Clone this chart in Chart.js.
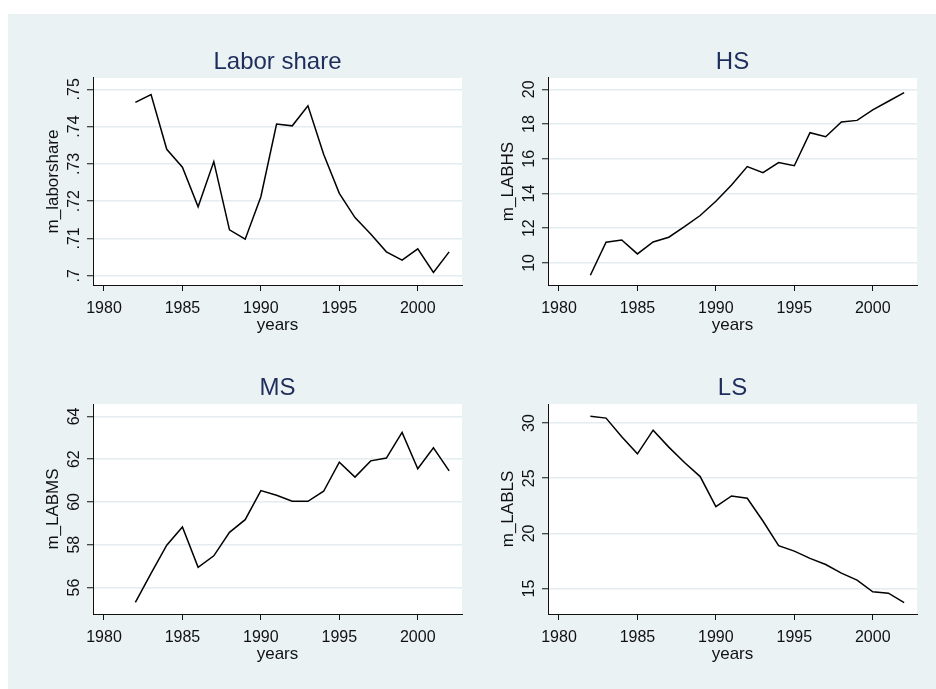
<!DOCTYPE html>
<html><head><meta charset="utf-8">
<script src="https://cdn.jsdelivr.net/npm/chart.js@4"></script>
<style>
html,body{margin:0;padding:0;background:#fff;}
#bg{position:absolute;left:8px;top:14px;width:928px;height:675px;background:#eaf2f3;}
canvas{position:absolute;}
</style></head><body>
<div id="bg"></div>
<canvas id="c1" width="464" height="331" style="left:8px;top:14px"></canvas>
<canvas id="c2" width="464" height="331" style="left:472px;top:14px"></canvas>
<canvas id="c3" width="464" height="344" style="left:8px;top:345px"></canvas>
<canvas id="c4" width="464" height="344" style="left:472px;top:345px"></canvas>
<script>
// ---- data ----
const years = [1982,1983,1984,1985,1986,1987,1988,1989,1990,1991,1992,1993,1994,1995,1996,1997,1998,1999,2000,2001,2002];
const laborShare = [.7465,.7486,.7339,.7291,.7185,.7306,.7123,.7098,.7212,.7407,.7402,.7456,.7326,.7221,.7156,.7112,.7064,.7042,.7072,.7009,.7064];
const labHS = [9.29,11.19,11.32,10.52,11.21,11.48,12.09,12.73,13.55,14.49,15.55,15.20,15.78,15.60,17.50,17.27,18.12,18.21,18.81,19.31,19.81];
const labMS = [55.30,56.66,57.98,58.83,56.94,57.48,58.58,59.17,60.53,60.31,60.03,60.03,60.50,61.86,61.16,61.92,62.05,63.25,61.55,62.53,61.45];
const labLS = [30.61,30.45,28.76,27.21,29.36,27.82,26.42,25.15,22.42,23.39,23.18,21.12,18.88,18.39,17.73,17.18,16.39,15.76,14.70,14.58,13.73];
const xTickValues = [1980,1985,1990,1995,2000];
const xTickLabels = ['1980','1985','1990','1995','2000'];
const laborTicks = [.70,.71,.72,.73,.74,.75];
const laborTickLabels = ['.7','.71','.72','.73','.74','.75'];
const hsTicks = [10,12,14,16,18,20];
const hsTickLabels = ['10','12','14','16','18','20'];
const msTicks = [56,58,60,62,64];
const msTickLabels = ['56','58','60','62','64'];
const lsTicks = [15,20,25,30];
const lsTickLabels = ['15','20','25','30'];

// ---- styling ----
const FONT = '"Liberation Sans", Arial, sans-serif';
const GRID = '#e3ecef';
const TITLE_COLOR = '#1f2d5c';

const plotBg = {
  id: 'plotBg',
  beforeDraw(chart) {
    const a = chart.chartArea, ctx = chart.ctx;
    ctx.save(); ctx.fillStyle = '#ffffff';
    ctx.fillRect(a.left, a.top, a.right - a.left, a.bottom - a.top);
    ctx.restore();
  }
};
const yLabels = {
  id: 'yLabels',
  afterDraw(chart) {
    const s = chart.scales.y, ctx = chart.ctx;
    const labs = chart.options.plugins.yLabels.labels;
    const vals = chart.options.plugins.yLabels.values;
    ctx.save();
    ctx.fillStyle = '#111';
    ctx.font = '16px ' + FONT;
    ctx.textAlign = 'center';
    ctx.textBaseline = 'alphabetic';
    s.ticks.forEach(t => {
      const i = vals.indexOf(t.value);
      const y = s.getPixelForValue(t.value);
      ctx.save();
      ctx.translate(s.right - 14.3, y);
      ctx.rotate(-Math.PI / 2);
      ctx.fillText(i >= 0 ? labs[i] : String(t.value), 0, 0);
      ctx.restore();
    });
    ctx.restore();
  }
};

function makeChart(id, c) {
  const pts = years.map((yr, i) => ({x: yr, y: c.values[i]}));
  return new Chart(document.getElementById(id), {
    type: 'line',
    data: {datasets: [{data: pts, borderColor: '#000', borderWidth: 1.5, pointRadius: 0, tension: 0, fill: false}]},
    plugins: [plotBg, yLabels],
    options: {
      responsive: false, animation: false, devicePixelRatio: 1,
      layout: {padding: {left: 0, right: c.padRight, top: 0, bottom: c.padBottom}},
      plugins: {
        legend: {display: false}, tooltip: {enabled: false},
        title: {display: true, text: c.title, fullSize: false, color: TITLE_COLOR,
                font: {family: FONT, size: 24, weight: 'normal'}, padding: {top: c.titleTop, bottom: c.titleBottom}},
        yLabels: {labels: c.yLabels, values: c.yTicks}
      },
      scales: {
        x: {
          type: 'linear', min: 1979.3, max: 2002.82,
          afterBuildTicks: s => { s.ticks = xTickValues.map(v => ({value: v})); },
          afterFit: s => { s.height = 51; },
          ticks: {color: '#111', font: {family: FONT, size: 16}, padding: 8, maxRotation: 0, autoSkip: false,
                  callback: v => { const i = xTickValues.indexOf(v); return i >= 0 ? xTickLabels[i] : ''; }},
          grid: {display: true, drawOnChartArea: false, drawTicks: true, tickLength: 6, tickColor: '#111', tickWidth: 1},
          border: {display: true, color: '#111', width: 1},
          title: {display: true, text: 'years', color: '#111', font: {family: FONT, size: 17}, padding: {top: 0, bottom: 0}}
        },
        y: {
          type: 'linear', min: c.yMin, max: c.yMax,
          afterBuildTicks: s => { s.ticks = c.yTicks.map(v => ({value: v})); },
          afterFit: s => { s.width = c.yWidth; },
          ticks: {display: false},
          grid: {display: true, color: GRID, lineWidth: 1.5, drawTicks: true, tickLength: 6, tickColor: '#111', tickWidth: 1},
          border: {display: true, color: '#111', width: 1},
          title: {display: true, text: c.yTitle, color: '#111', font: {family: FONT, size: 17}, padding: {top: c.yTitleTop, bottom: 0}}
        }
      }
    }
  });
}

makeChart('c1', {title: 'Labor share', yTitle: 'm_laborshare', values: laborShare, yTicks: laborTicks, yLabels: laborTickLabels,
  yMin: .69751, yMax: .75303, yWidth: 85, padRight: 10, padBottom: 9, titleTop: 33.8, titleBottom: 1.4, yTitleTop: 35.3});
makeChart('c2', {title: 'HS', yTitle: 'm_LABHS', values: labHS, yTicks: hsTicks, yLabels: hsTickLabels,
  yMin: 8.73, yMax: 20.65, yWidth: 76, padRight: 19, padBottom: 9, titleTop: 33.8, titleBottom: 1.4, yTitleTop: 26.3});
makeChart('c3', {title: 'MS', yTitle: 'm_LABMS', values: labMS, yTicks: msTicks, yLabels: msTickLabels,
  yMin: 54.76, yMax: 64.58, yWidth: 85, padRight: 10, padBottom: 24, titleTop: 29, titleBottom: 1.2, yTitleTop: 35.3});
makeChart('c4', {title: 'LS', yTitle: 'm_LABLS', values: labLS, yTicks: lsTicks, yLabels: lsTickLabels,
  yMin: 12.69, yMax: 31.73, yWidth: 76, padRight: 19, padBottom: 24, titleTop: 29, titleBottom: 1.2, yTitleTop: 26.3});
</script>
</body></html>
